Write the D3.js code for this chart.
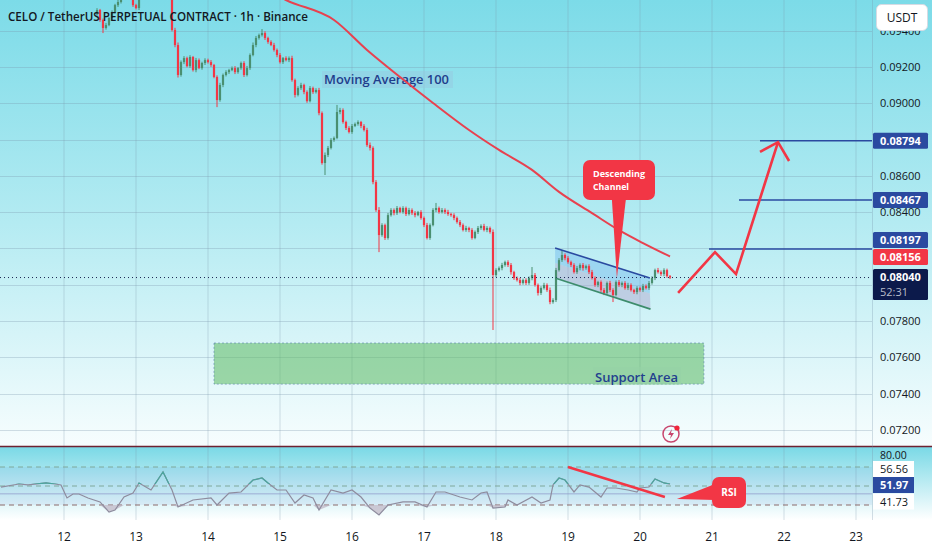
<!DOCTYPE html>
<html>
<head>
<meta charset="utf-8">
<script src="https://cdn.jsdelivr.net/npm/d3@7"></script>
<style>
body { margin: 0; background: #fff; }
svg { display: block; font-family: "Open Sans", sans-serif; }
</style>
</head>
<body>
<svg id="chart" width="932" height="550"></svg>
<script>
// hourly candles, first one is hour 11 of day 12
const FIRST_HOUR = 11;
const firstOpen = 0.09490;
const closes = [
  0.09514,0.09459,0.09415,0.09431,0.09470,0.09503,0.09541,0.09558,0.09597,0.09652,0.09679,0.09624,0.09541,0.09525,0.09597,0.09652,0.09690,0.09707,0.09679,0.09723,0.09707,0.09668,0.09690,0.09652,
  0.09624,0.09404,0.09321,0.09156,0.09227,0.09249,0.09205,0.09255,0.09183,0.09238,0.09194,0.09222,0.09238,0.09227,0.09211,0.09145,0.09018,0.09101,0.09156,0.09172,0.09183,0.09194,0.09172,0.09194,
  0.09222,0.09156,0.09194,0.09266,0.09321,0.09360,0.09376,0.09387,0.09360,0.09338,0.09321,0.09294,0.09266,0.09227,0.09249,0.09238,0.09249,0.09128,0.09046,0.09084,0.09101,0.09062,0.09012,0.09084,
  0.09062,0.09073,0.08946,0.08671,0.08715,0.08754,0.08798,0.08809,0.08952,0.08963,0.08897,0.08864,0.08842,0.08875,0.08886,0.08897,0.08875,0.08853,0.08770,0.08754,0.08566,0.08412,0.08274,0.08329,
  0.08258,0.08384,0.08412,0.08395,0.08423,0.08401,0.08423,0.08390,0.08412,0.08395,0.08384,0.08401,0.08368,0.08329,0.08258,0.08329,0.08412,0.08423,0.08401,0.08412,0.08401,0.08390,0.08384,0.08368,
  0.08346,0.08329,0.08302,0.08313,0.08302,0.08258,0.08291,0.08313,0.08324,0.08302,0.08313,0.08291,0.08054,0.08081,0.08092,0.08109,0.08125,0.08109,0.08070,0.08037,0.08026,0.08010,0.08026,0.08010,
  0.08037,0.08054,0.07999,0.07955,0.07982,0.07999,0.07971,0.07905,0.07916,0.08081,0.08136,0.08164,0.08147,0.08125,0.08109,0.08070,0.08092,0.08109,0.08092,0.08103,0.08070,0.08037,0.07999,0.08015,
  0.07971,0.07955,0.08010,0.07971,0.07944,0.08015,0.07999,0.08010,0.07982,0.07999,0.07971,0.07960,0.07982,0.07971,0.07993,0.07982,0.08010,0.08037,0.08081,0.08070,0.08059,0.08081,0.08048,0.08040
];
// wick lengths beyond the body, in 0.00001 USDT
const wickUp = [
  10,6,8,12,5,9,7,11,6,8,10,5,12,7,9,6,8,10,7,5,9,11,6,8,
  7,10,12,14,9,11,8,10,6,12,9,7,10,8,11,6,9,12,8,10,7,9,11,6,
  8,10,12,9,14,11,8,22,10,7,9,12,8,11,6,10,9,13,8,10,12,7,9,11,
  8,10,12,9,14,11,10,8,39,12,9,7,10,11,8,9,6,10,12,14,9,11,16,10,
  8,12,10,9,11,7,10,8,12,9,11,6,10,8,12,9,10,28,8,11,9,12,7,10,
  8,11,9,12,7,10,8,11,9,12,10,8,14,10,9,12,8,10,11,7,9,12,8,10,
  9,44,11,8,10,12,9,14,10,12,11,28,9,11,8,10,12,9,11,8,10,12,9,7,
  9,11,8,12,10,9,11,8,10,12,9,7,10,8,12,9,11,10,8,12,9,10,8,6
];
const wickDn = [
  8,10,28,9,6,11,7,10,8,12,6,9,10,7,11,8,9,6,12,8,10,7,9,11,
  10,8,12,14,9,11,7,10,8,12,6,9,11,8,10,7,39,9,12,8,10,6,11,9,
  9,11,8,10,7,12,9,8,11,10,6,9,12,8,10,7,11,9,14,8,10,12,9,7,
  10,8,12,9,66,11,8,10,7,12,9,11,8,10,6,9,12,8,10,14,12,10,94,9,
  11,9,8,12,10,7,9,11,8,10,12,6,9,11,8,10,7,12,9,8,11,10,9,12,
  9,11,8,10,12,9,7,11,10,8,12,9,303,10,8,12,9,11,14,10,8,12,9,11,
  10,12,9,14,11,8,10,12,9,11,8,10,12,9,11,8,10,12,14,9,11,8,10,12,
  10,12,9,11,39,8,10,12,9,11,8,10,12,9,11,8,10,9,11,8,10,12,9,8
];

const maHours = [66,74,90,101,112,123,135,145,156,165,176,186,193,202];
const maValues = [0.09640,0.09569,0.09459,0.09294,0.09145,0.09002,0.08853,0.08743,0.08633,0.08512,0.08395,0.08291,0.08230,0.08156];

const rsiHours = [-21,-15,-12,-6,-3,-1,1,3,5,8,12,15,17,20,23,25,29,33,36,38,43,49,51,55,59,63,66,68,71,74,77,80,83,85,89,93,96,99,102,105,108,113,117,121,124,127,132,136,139,141,143,147,148,151,156,159,162,163,165,167,170,172,175,179,181,184,188,191,192,195,197,200,202];
const rsiValues = [48.9,52.1,51.1,53.2,52.1,51.1,37.4,41.6,41.6,37.4,33.2,22.6,24.7,38.4,42.6,53.2,45.8,64.7,45.8,27.9,35.3,37.4,30,42.6,43.7,56.3,58.4,53.2,45.8,45.8,32.1,40.5,37.4,24.7,45.8,42.6,45.8,38.4,26.8,19.5,30,33.2,33.2,27.9,43.7,43.7,38.4,35.3,42.6,43.7,26.8,27.9,35.3,30,38.4,32.1,35.3,51.1,58.4,56.3,43.7,51.1,48.9,38.4,47.9,47.9,45.8,43.7,47.9,48.9,57.4,53.2,52];

const dayLabels = [12,13,14,15,16,17,18,19,20,21,22,23];
const priceTicks = [0.072,0.074,0.076,0.078,0.080,0.082,0.084,0.086,0.088,0.090,0.092,0.094];
// ticks whose labels sit under the price tags
const hiddenTicks = [0.080,0.082,0.088];
const rsiLevels = [70,50,41.73,30];

const targetLevels = [0.08794,0.08467,0.08197];
const targetStartHours = [232,225,215];
const lastPrice = 0.08040;
const maLast = 0.08156;

// drawings, as [hour, price] or [hour, rsi]
const channelTop = [[163.7,0.08203],[195.3,0.08037]];
const channelBottom = [[163.7,0.08037],[195.5,0.07866]];
const projection = [[204.7,0.07955],[217,0.08180],[224,0.08059],[238,0.08786]];
const arrowHead = [[232,0.08732],[238,0.08786],[241.7,0.08682]];
const supportZone = {h0:50, h1:213.3, p0:0.07453, p1:0.07679};
const rsiTrend = [[168,70],[200.3,38.4]];

const W = 932, PLOT_R = 872, MAIN_B = 446, RSI_T = 447, RSI_B = 520;
const GREEN = '#4a8f70', RED = '#f23645', BLUE = '#2a4aa0';

const x = d3.scaleLinear().domain([0,264]).range([64,856]);
const y = d3.scaleLinear().domain([0.072,0.092]).range([430,67]);
const yr = d3.scaleLinear().domain([30,70]).range([505,467]);

const svg = d3.select('#chart');
const defs = svg.append('defs');

const g1 = defs.append('linearGradient').attr('id','mainBg').attr('x1',0).attr('y1',0).attr('x2',0).attr('y2',1);
g1.append('stop').attr('offset','0%').attr('stop-color','#7cdbe8');
g1.append('stop').attr('offset','50%').attr('stop-color','#b4ebf2');
g1.append('stop').attr('offset','100%').attr('stop-color','#f7fdfe');
const g2 = defs.append('linearGradient').attr('id','rsiBg').attr('x1',0).attr('y1',0).attr('x2',0).attr('y2',1);
g2.append('stop').attr('offset','0%').attr('stop-color','#7ad9e6');
g2.append('stop').attr('offset','100%').attr('stop-color','#ffffff');

defs.append('clipPath').attr('id','mainClip').append('rect').attr('x',0).attr('y',0).attr('width',PLOT_R).attr('height',MAIN_B);
defs.append('clipPath').attr('id','rsiClip').append('rect').attr('x',0).attr('y',RSI_T).attr('width',PLOT_R).attr('height',RSI_B-RSI_T);
defs.append('clipPath').attr('id','rsiHigh').append('rect').attr('x',0).attr('y',RSI_T).attr('width',PLOT_R).attr('height',yr(52)-RSI_T);

// backgrounds
svg.append('rect').attr('x',0).attr('y',0).attr('width',W).attr('height',MAIN_B).attr('fill','url(#mainBg)');
svg.append('rect').attr('x',0).attr('y',RSI_T).attr('width',W).attr('height',RSI_B-RSI_T).attr('fill','url(#rsiBg)');

// grid
const grid = svg.append('g').attr('stroke','rgba(120,145,170,0.3)').attr('stroke-width',1);
grid.selectAll('.vg').data(dayLabels).enter().append('line')
  .attr('x1', d => x((d-12)*24)).attr('x2', d => x((d-12)*24))
  .attr('y1',0).attr('y2',RSI_B);
grid.selectAll('.hg').data(priceTicks).enter().append('line')
  .attr('x1',0).attr('x2',PLOT_R)
  .attr('y1', d => Math.round(y(d))+0.5).attr('y2', d => Math.round(y(d))+0.5);

const main = svg.append('g').attr('clip-path','url(#mainClip)');

// support area
main.append('rect')
  .attr('x', x(supportZone.h0)).attr('width', x(supportZone.h1)-x(supportZone.h0))
  .attr('y', y(supportZone.p1)).attr('height', y(supportZone.p0)-y(supportZone.p1))
  .attr('fill','rgba(90,185,95,0.54)')
  .attr('stroke','rgba(90,130,170,0.6)').attr('stroke-dasharray','2,2');
main.append('rect').attr('x',593).attr('y',367).attr('width',88).attr('height',18).attr('fill','rgba(150,210,165,0.55)');
main.append('text').attr('x',595).attr('y',382).attr('font-size',13).attr('font-weight',600)
  .attr('fill','#23408e').attr('textLength',83).attr('lengthAdjust','spacingAndGlyphs').text('Support Area');

// descending channel fill
const pt = d => [x(d[0]), y(d[1])];
const mid = [[channelTop[0][0],(channelTop[0][1]+channelBottom[0][1])/2],[channelTop[1][0],(channelTop[1][1]+channelBottom[1][1])/2]];
main.append('path').attr('d', d3.line()([pt(channelTop[0]),pt(channelTop[1]),pt(mid[1]),pt(mid[0])]))
  .attr('fill','rgba(90,170,235,0.35)');
main.append('path').attr('d', d3.line()([pt(mid[0]),pt(mid[1]),pt(channelBottom[1]),pt(channelBottom[0])]))
  .attr('fill','rgba(175,165,205,0.45)');

// MA label under the MA line
main.append('rect').attr('x',322).attr('y',71).attr('width',131).attr('height',17).attr('fill','rgba(150,200,225,0.45)');
main.append('text').attr('x',324).attr('y',84).attr('font-size',13).attr('font-weight',600)
  .attr('fill','#1f3d8c').attr('textLength',125).attr('lengthAdjust','spacingAndGlyphs').text('Moving Average 100');

// MA 100
main.append('path')
  .datum(maHours.map((h,i) => [h, maValues[i]]))
  .attr('d', d3.line().x(d => x(d[0])).y(d => y(d[1])).curve(d3.curveMonotoneX))
  .attr('fill','none').attr('stroke','#e8414f').attr('stroke-width',2);

// candles
const candles = closes.map((c,i) => {
  const o = i ? closes[i-1] : firstOpen;
  return {h: FIRST_HOUR+i, o: o, c: c,
    hi: Math.max(o,c) + wickUp[i]*1e-5, lo: Math.min(o,c) - wickDn[i]*1e-5};
});
const cg = main.append('g');
cg.selectAll('.wick').data(candles).enter().append('rect')
  .attr('x', d => x(d.h)-0.5).attr('width',1)
  .attr('y', d => y(d.hi)).attr('height', d => y(d.lo)-y(d.hi))
  .attr('fill', d => d.c >= d.o ? GREEN : RED);
cg.selectAll('.body').data(candles).enter().append('rect')
  .attr('x', d => x(d.h)-1.1).attr('width',2.2)
  .attr('y', d => y(Math.max(d.o,d.c)))
  .attr('height', d => Math.max(1, Math.abs(y(d.o)-y(d.c))))
  .attr('fill', d => d.c >= d.o ? GREEN : RED);

// last price dotted line
main.append('line').attr('x1',0).attr('x2',PLOT_R)
  .attr('y1',y(lastPrice)).attr('y2',y(lastPrice))
  .attr('stroke','#1b2550').attr('stroke-width',1).attr('stroke-dasharray','1,3');

// channel borders
main.append('line').attr('x1',pt(channelTop[0])[0]).attr('y1',pt(channelTop[0])[1])
  .attr('x2',pt(channelTop[1])[0]).attr('y2',pt(channelTop[1])[1])
  .attr('stroke',BLUE).attr('stroke-width',1.6);
main.append('line').attr('x1',pt(channelBottom[0])[0]).attr('y1',pt(channelBottom[0])[1])
  .attr('x2',pt(channelBottom[1])[0]).attr('y2',pt(channelBottom[1])[1])
  .attr('stroke','#3d8c6c').attr('stroke-width',1.6);

// target levels
main.selectAll('.target').data(targetLevels).enter().append('line')
  .attr('x1', (d,i) => x(targetStartHours[i])).attr('x2',PLOT_R)
  .attr('y1', d => y(d)).attr('y2', d => y(d))
  .attr('stroke',BLUE).attr('stroke-width',1.6);

// projected path
main.append('path').attr('d', d3.line()(projection.map(pt)))
  .attr('fill','none').attr('stroke',RED).attr('stroke-width',2.6).attr('stroke-linejoin','miter');
main.append('path').attr('d', d3.line()(arrowHead.map(pt)))
  .attr('fill','none').attr('stroke',RED).attr('stroke-width',2.6);

// descending channel callout
const tipX = x(184.3), tipY = y(0.08037);
main.append('path').attr('d', `M${tipX-5},199 L${tipX+9},199 L${tipX},${tipY} Z`).attr('fill',RED);
main.append('rect').attr('x',583).attr('y',160).attr('width',72).attr('height',40).attr('rx',7).attr('fill',RED);
main.append('text').attr('x',593).attr('y',177).attr('font-size',9.5).attr('font-weight',700).attr('fill','#fff')
  .attr('textLength',52).attr('lengthAdjust','spacingAndGlyphs').text('Descending');
main.append('text').attr('x',593).attr('y',189.5).attr('font-size',9.5).attr('font-weight',700).attr('fill','#fff')
  .attr('textLength',36).attr('lengthAdjust','spacingAndGlyphs').text('Channel');

// flash icon
const icon = main.append('g').attr('transform','translate(671,434)');
icon.append('circle').attr('r',8).attr('fill','none').attr('stroke','#c8466e').attr('stroke-width',1.5);
icon.append('path').attr('d','M1,-5 L-3,1 L0,1 L-1,5 L3,-1 L0,-1 Z').attr('fill','#c8466e');
icon.append('circle').attr('cx',6).attr('cy',-6).attr('r',2.6).attr('fill','#f0243a');

// title
svg.append('text').attr('x',8).attr('y',21).attr('font-size',13).attr('font-weight',600)
  .attr('fill','#131722').attr('textLength',300).attr('lengthAdjust','spacingAndGlyphs')
  .text('CELO / TetherUS PERPETUAL CONTRACT · 1h · Binance');

// ---- RSI pane
const rsiPts = rsiHours.map((h,i) => [h, rsiValues[i]]);
const rg = svg.append('g').attr('clip-path','url(#rsiClip)');
rg.append('rect').attr('x',0).attr('width',PLOT_R).attr('y',yr(70)).attr('height',yr(30)-yr(70)).attr('fill','rgba(80,100,200,0.08)');
rg.selectAll('.lvl').data(rsiLevels).enter().append('line')
  .attr('x1',0).attr('x2',PLOT_R)
  .attr('y1', d => yr(d)).attr('y2', d => yr(d))
  .attr('stroke', d => d === 30 ? '#8c6a6a' : (d === 41.73 ? 'rgba(140,150,200,0.7)' : '#7fa89a'))
  .attr('stroke-width', 1)
  .attr('stroke-dasharray', d => d === 41.73 ? null : '5,4');
rg.append('path').datum(rsiPts)
  .attr('d', d3.area().x(d => x(d[0])).y0(yr(30)).y1(d => yr(Math.min(d[1],30))))
  .attr('fill','rgba(190,180,195,0.7)');
const rsiLine = d3.line().x(d => x(d[0])).y(d => yr(d[1]));
rg.append('path').datum(rsiPts).attr('d',rsiLine).attr('fill','none').attr('stroke','#8e8c9e').attr('stroke-width',1.2);
rg.append('path').datum(rsiPts).attr('d',rsiLine).attr('fill','none').attr('stroke','#4aa69e').attr('stroke-width',1.2)
  .attr('clip-path','url(#rsiHigh)');
rg.append('line').attr('x1',x(rsiTrend[0][0])).attr('y1',yr(rsiTrend[0][1]))
  .attr('x2',x(rsiTrend[1][0])).attr('y2',yr(rsiTrend[1][1]))
  .attr('stroke',RED).attr('stroke-width',2.4);
// RSI callout
const rTipX = x(204.3), rTipY = yr(36.3);
rg.append('path').attr('d', `M${rTipX},${rTipY} L715,484 L715,500 Z`).attr('fill',RED);
rg.append('rect').attr('x',712).attr('y',477).attr('width',34).attr('height',31).attr('rx',7).attr('fill',RED);
rg.append('text').attr('x',729).attr('y',496).attr('text-anchor','middle').attr('font-size',10).attr('font-weight',700)
  .attr('fill','#fff').text('RSI');

// pane separator
svg.append('line').attr('x1',0).attr('x2',W).attr('y1',MAIN_B+0.5).attr('y2',MAIN_B+0.5)
  .attr('stroke','#6e2231').attr('stroke-width',1.5);

// axis separator
svg.append('line').attr('x1',PLOT_R+0.5).attr('x2',PLOT_R+0.5).attr('y1',0).attr('y2',RSI_B)
  .attr('stroke','rgba(120,145,170,0.3)');

// date axis
svg.append('g').selectAll('text').data(dayLabels).enter().append('text')
  .attr('x', d => x((d-12)*24)).attr('y',541).attr('text-anchor','middle')
  .attr('font-size',12).attr('fill','#131722').text(d => d);

// price axis ticks
const ax = svg.append('g').attr('font-size',11).attr('fill','#131722');
ax.selectAll('text').data(priceTicks.filter(d => !hiddenTicks.some(h => Math.abs(h-d) < 1e-9))).enter().append('text')
  .attr('x',880).attr('y', d => y(d)+4).text(d => d.toFixed(5));

// price axis labels
function tag(yc, h, bg, txt, col) {
  svg.append('rect').attr('x',873).attr('y',yc-h/2).attr('width',55).attr('height',h).attr('rx',1.5).attr('fill',bg);
  svg.append('text').attr('x',880).attr('y',yc+4).attr('font-size',11).attr('font-weight',700).attr('fill',col).text(txt);
}
tag(y(targetLevels[0]), 16, BLUE, targetLevels[0].toFixed(5), '#fff');
tag(y(targetLevels[1]), 16, BLUE, targetLevels[1].toFixed(5), '#fff');
tag(240, 16, BLUE, targetLevels[2].toFixed(5), '#fff');
tag(257, 16, RED, maLast.toFixed(5), '#fff');
svg.append('rect').attr('x',873).attr('y',269).attr('width',55).attr('height',31).attr('rx',1.5).attr('fill','#0c1a4b');
svg.append('text').attr('x',880).attr('y',281).attr('font-size',11).attr('font-weight',700).attr('fill','#fff').text(lastPrice.toFixed(5));
svg.append('text').attr('x',880).attr('y',296).attr('font-size',11).attr('fill','#b8bcc8').text('52:31');

// currency box
svg.append('rect').attr('x',876.5).attr('y',4.5).attr('width',51).attr('height',26).attr('rx',5)
  .attr('fill','#fff').attr('stroke','#d6dbe3');
svg.append('text').attr('x',902).attr('y',21.5).attr('text-anchor','middle').attr('font-size',12).attr('fill','#131722').text('USDT');

// RSI axis labels
svg.append('text').attr('x',880).attr('y',458.5).attr('font-size',10.5).attr('fill','#131722').text('80.00');
function rtag(yc, bg, txt, col, bold) {
  svg.append('rect').attr('x',873).attr('y',yc-8).attr('width',41).attr('height',16).attr('fill',bg);
  svg.append('text').attr('x',880).attr('y',yc+4).attr('font-size',11).attr('font-weight',bold ? 700 : 400).attr('fill',col).text(txt);
}
rtag(469, '#fff', '56.56', '#131722', false);
rtag(485, BLUE, '51.97', '#fff', true);
rtag(501.5, '#fff', '41.73', '#131722', false);
</script>
</body>
</html>
